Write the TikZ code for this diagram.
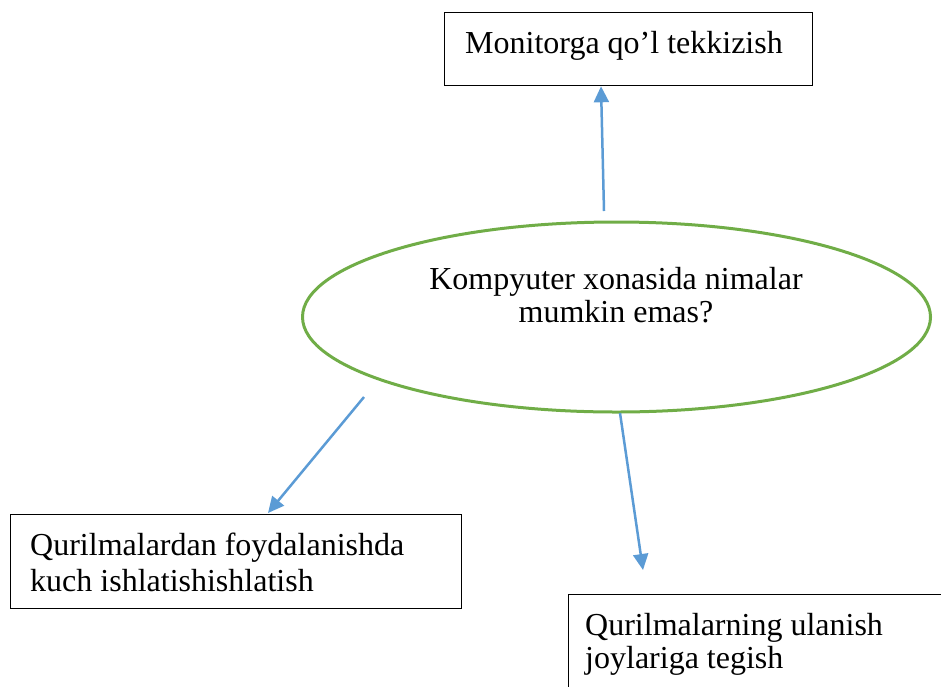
\documentclass[tikz,border=0pt]{standalone}
\usepackage{fontspec}
\setmainfont{Liberation Serif}
\usetikzlibrary{arrows.meta}
\definecolor{arrowblue}{HTML}{5B9BD5}
\definecolor{ellgreen}{HTML}{70AD47}
\tikzset{
  box/.style={draw=black, line width=1.3pt, rectangle, inner sep=0pt, anchor=north west},
  txt/.style={font=\fontsize{32}{34}\selectfont, inner sep=0pt, align=left},
  ctxt/.style={font=\fontsize{32}{33}\selectfont, inner sep=0pt, align=center},
  conn/.style={draw=arrowblue, line width=2.5pt, -{Triangle[length=16pt,width=15pt]}},
}
\begin{document}
\begin{tikzpicture}[x=1pt,y=-1pt]
\clip (0,0) rectangle (941,686);
% boxes
\node[box, minimum width=368pt, minimum height=73pt] (top) at (444,12) {};
\node[box, minimum width=451pt, minimum height=94pt] (left) at (10,514) {};
\node[box, minimum width=420pt, minimum height=120pt] (right) at (568,594) {};
% ellipse
\draw[ellgreen, line width=3pt] (616.5,317) ellipse [x radius=314, y radius=95];
% texts
\node[txt, anchor=base west] (ttop) at (465,53) {Monitorga qo’l tekkizish};
\node[ctxt, anchor=base] (tell) at (616,322) {Kompyuter xonasida nimalar\\mumkin emas?};
\node[txt, anchor=base west, font=\fontsize{32}{36}\selectfont] (tleft) at (30,591) {Qurilmalardan foydalanishda\\kuch ishlatishishlatish};
\node[txt, anchor=base west, font=\fontsize{32}{33}\selectfont] (tright) at (585,668) {Qurilmalarning ulanish\\joylariga tegish};
% connectors
\coordinate (a1) at (604,211);
\coordinate (a2) at (364,397);
\coordinate (a3) at (620,413);
\coordinate (b2) at (268,513);
\coordinate (b3) at (643,570);
\draw[conn] (a1) -- (601,0 |- top.south);
\draw[conn] (a2) -- (b2);
\draw[conn] (a3) -- (b3);
\end{tikzpicture}
\end{document}
